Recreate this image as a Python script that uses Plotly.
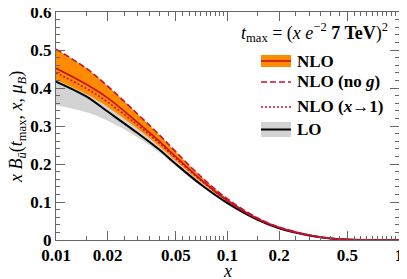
import plotly.graph_objects as go

# ---- data ----
x = [0.01, 0.015, 0.02, 0.03, 0.04, 0.05, 0.07, 0.1, 0.15, 0.2, 0.3, 0.4, 0.5, 0.7, 1.0]
lo = [0.417, 0.378, 0.338, 0.281, 0.238, 0.200, 0.146, 0.097, 0.053, 0.031, 0.0118, 0.0040, 0.0010, 0.0001, 0.0]
lo_band_low = [0.355, 0.336, 0.314, 0.270, 0.230, 0.194, 0.142, 0.095, 0.052, 0.030, 0.0113, 0.0038, 0.0009, 0.0001, 0.0]
lo_band_high = [0.440, 0.398, 0.360, 0.298, 0.250, 0.210, 0.153, 0.101, 0.055, 0.032, 0.0122, 0.0042, 0.0011, 0.0001, 0.0]
nlo = [0.452, 0.410, 0.374, 0.309, 0.260, 0.219, 0.159, 0.104, 0.056, 0.0330, 0.0125, 0.0042, 0.0011, 0.0001, 0.0]
nlo_band_low = [0.422, 0.384, 0.350, 0.292, 0.247, 0.208, 0.152, 0.100, 0.054, 0.0318, 0.0120, 0.0040, 0.0010, 0.0001, 0.0]
nlo_band_high = [0.502, 0.452, 0.405, 0.331, 0.277, 0.232, 0.167, 0.108, 0.058, 0.0340, 0.0130, 0.0043, 0.0011, 0.0001, 0.0]
nlo_no_g = [0.502, 0.452, 0.405, 0.331, 0.277, 0.232, 0.167, 0.108, 0.058, 0.0340, 0.0130, 0.0043, 0.0011, 0.0001, 0.0]
nlo_x1 = [0.440, 0.399, 0.363, 0.302, 0.255, 0.215, 0.157, 0.103, 0.055, 0.0326, 0.0123, 0.0041, 0.0010, 0.0001, 0.0]

x_tickvals = [0.01, 0.02, 0.05, 0.1, 0.2, 0.5, 1]
x_ticktext = ["0.01", "0.02", "0.05", "0.1", "0.2", "0.5", "1"]
x_minor = [0.015, 0.025, 0.03, 0.035, 0.04, 0.045,
           0.055, 0.06, 0.065, 0.07, 0.075, 0.08, 0.085, 0.09, 0.095,
           0.15, 0.25, 0.3, 0.35, 0.4, 0.45,
           0.55, 0.6, 0.65, 0.7, 0.75, 0.8, 0.85, 0.9, 0.95]
y_tickvals = [0, 0.1, 0.2, 0.3, 0.4, 0.5, 0.6]
y_ticktext = ["0", "0.1", "0.2", "0.3", "0.4", "0.5", "0.6"]

ORANGE = "#FF8C00"
CRIMSON = "#C8102E"
GRAY = "#D3D3D3"
AX = "#666666"
FONT = "Liberation Serif"

fig = go.Figure()

def band(lo_, hi_, color):
    fig.add_trace(go.Scatter(x=x, y=lo_, mode="lines", line=dict(width=0, color=color, shape="spline"),
                             showlegend=False, hoverinfo="skip"))
    fig.add_trace(go.Scatter(x=x, y=hi_, mode="lines", line=dict(width=0, color=color, shape="spline"),
                             fill="tonexty", fillcolor=color, showlegend=False, hoverinfo="skip"))

band(lo_band_low, lo_band_high, GRAY)
band(nlo_band_low, nlo_band_high, ORANGE)

fig.add_trace(go.Scatter(x=x, y=lo, mode="lines", line=dict(color="black", width=2, shape="spline"), showlegend=False))
fig.add_trace(go.Scatter(x=x, y=nlo_x1, mode="lines", line=dict(color=CRIMSON, width=1.6, dash="2px,2px", shape="spline"), showlegend=False))
fig.add_trace(go.Scatter(x=x, y=nlo, mode="lines", line=dict(color=CRIMSON, width=1.6, shape="spline"), showlegend=False))
fig.add_trace(go.Scatter(x=x, y=nlo_no_g, mode="lines", line=dict(color=CRIMSON, width=1.6, dash="6px,3px", shape="spline"), showlegend=False))

# ---- manual legend (paper coordinates, relative to the plot area) ----
def px2x(p):
    return (p - 56) / 343.0

def py2y(p):
    return (240 - p) / 228.0

shapes = []
x0s, x1s = px2x(261), px2x(291)
shapes.append(dict(type="rect", xref="paper", yref="paper", x0=x0s, x1=x1s, y0=py2y(67), y1=py2y(55),
                   fillcolor=ORANGE, line=dict(width=0)))
shapes.append(dict(type="line", xref="paper", yref="paper", x0=x0s, x1=x1s, y0=py2y(61), y1=py2y(61),
                   line=dict(color=CRIMSON, width=1.6)))
shapes.append(dict(type="line", xref="paper", yref="paper", x0=x0s, x1=x1s, y0=py2y(82), y1=py2y(82),
                   line=dict(color=CRIMSON, width=1.6, dash="6px,3px")))
shapes.append(dict(type="line", xref="paper", yref="paper", x0=x0s, x1=x1s, y0=py2y(107), y1=py2y(107),
                   line=dict(color=CRIMSON, width=1.6, dash="2px,2px")))
shapes.append(dict(type="rect", xref="paper", yref="paper", x0=x0s, x1=x1s, y0=py2y(137), y1=py2y(122),
                   fillcolor=GRAY, line=dict(width=0)))
shapes.append(dict(type="line", xref="paper", yref="paper", x0=x0s, x1=x1s, y0=py2y(129.5), y1=py2y(129.5),
                   line=dict(color="black", width=2)))

lfont = dict(family=FONT, size=17, color="black", weight="bold")
tfont = dict(family=FONT, size=18, color="black")
annotations = [
    dict(xref="paper", yref="paper", x=px2x(390), y=py2y(33), xanchor="right", yanchor="middle",
         text="<i>t</i><sub>max</sub> = (<i>x e</i><sup>−2</sup> <b>7 TeV</b>)<sup>2</sup>", showarrow=False, font=tfont),
    dict(xref="paper", yref="paper", x=px2x(295), y=py2y(61), xanchor="left", yanchor="middle",
         text="NLO", showarrow=False, font=lfont),
    dict(xref="paper", yref="paper", x=px2x(295), y=py2y(82), xanchor="left", yanchor="middle",
         text="NLO (no <i>g</i>)", showarrow=False, font=lfont),
    dict(xref="paper", yref="paper", x=px2x(295), y=py2y(107), xanchor="left", yanchor="middle",
         text="NLO (<i>x</i>→1)", showarrow=False, font=lfont),
    dict(xref="paper", yref="paper", x=px2x(295), y=py2y(129.5), xanchor="left", yanchor="middle",
         text="LO", showarrow=False, font=lfont),
    dict(xref="paper", yref="paper", x=0.5, y=py2y(271), xanchor="center", yanchor="middle",
         text="<i>x</i>", showarrow=False, font=dict(family=FONT, size=18, color="black")),
    dict(xref="paper", yref="paper", x=px2x(17), y=py2y(127), xanchor="center", yanchor="middle",
         textangle=-90, showarrow=False, font=dict(family=FONT, size=18, color="black"),
         text="<i>x</i> <i>B̃</i><sub><i>ū</i></sub>(<i>t</i><sub>max</sub>, <i>x</i>, <i>μ</i><sub><i>B</i></sub>)"),
]

tickfont = dict(family=FONT, size=17, color="black", weight="bold")

# the page body adds an 8px offset; margins compensate so the plot area lands at x 56-399, y 12-240
fig.update_layout(
    width=407, height=279,
    margin=dict(l=48, r=16, t=4, b=47, autoexpand=False),
    paper_bgcolor="white", plot_bgcolor="white",
    shapes=shapes, annotations=annotations,
    showlegend=False,
    xaxis=dict(type="log", range=[-2, 0.0004], tickmode="array", tickvals=x_tickvals, ticktext=x_ticktext,
               ticks="inside", ticklen=9, tickwidth=1, tickcolor=AX, ticklabelstandoff=0,
               ticklabeloverflow="allow", automargin=False,
               showline=True, linecolor=AX, linewidth=1, mirror="ticks",
               showgrid=False, zeroline=False, tickfont=tickfont,
               minor=dict(tickmode="array", tickvals=x_minor, ticks="inside", ticklen=4, tickcolor=AX, showgrid=False)),
    yaxis=dict(range=[0, 0.6], tickmode="array", tickvals=y_tickvals, ticktext=y_ticktext,
               ticks="inside", ticklen=9, tickwidth=1, tickcolor=AX, automargin=False,
               ticklabeloverflow="allow",
               showline=True, linecolor=AX, linewidth=1, mirror="ticks",
               showgrid=False, zeroline=False, tickfont=tickfont,
               minor=dict(dtick=0.02, ticks="inside", ticklen=4, tickcolor=AX, showgrid=False)),
)

fig.write_html("out.html")
